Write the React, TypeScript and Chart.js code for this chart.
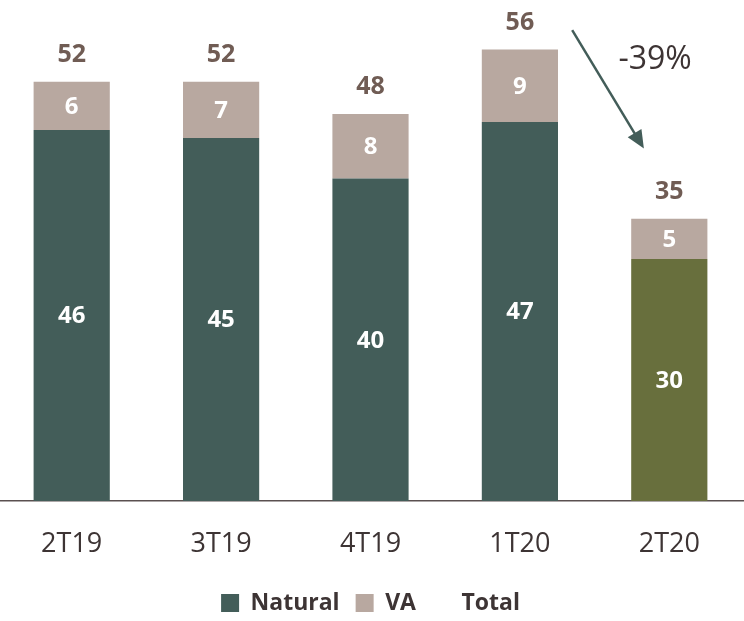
import React, { useEffect, useRef } from "react";
import { Chart, registerables } from "chart.js";

Chart.register(...registerables);

const categories = ["2T19", "3T19", "4T19", "1T20", "2T20"];
const naturalValues = [46, 45, 40, 47, 30];
const vaValues = [6, 7, 8, 9, 5];
const totalValues = [52, 52, 48, 56, 35];
const changeLabel = "-39%";
const yMax = 62;

const FONT = "'Open Sans', Lato, sans-serif";
const NATURAL = "#435d59";
const NATURAL_LAST = "#686f3d";
const VA = "#b8a8a0";
const TOTAL_TEXT = "#705c54";
const AXIS_TEXT = "#3d3434";

const labelsPlugin = {
  id: "labelsPlugin",
  afterDatasetsDraw(chart: any) {
    const ctx = chart.ctx;
    const xs = chart.scales.x;
    const ys = chart.scales.y;
    ctx.save();
    ctx.textAlign = "center";
    ctx.textBaseline = "middle";
    ctx.font = `bold 24px ${FONT}`;
    [0, 1].forEach((di) => {
      const meta = chart.getDatasetMeta(di);
      meta.data.forEach((bar: any, i: number) => {
        const p = bar.getProps(["x", "y", "base"], true);
        ctx.fillStyle = "#ffffff";
        ctx.fillText(String(chart.data.datasets[di].data[i]), p.x, (p.y + p.base) / 2 + 1);
      });
    });
    ctx.fillStyle = TOTAL_TEXT;
    ctx.font = `bold 25px ${FONT}`;
    totalValues.forEach((v, i) => {
      ctx.fillText(String(v), xs.getPixelForValue(i), ys.getPixelForValue(v) - 27);
    });

    // arrow between 1T20 and 2T20
    const step = xs.getPixelForValue(4) - xs.getPixelForValue(3);
    const x0 = xs.getPixelForValue(3) + 0.35 * step;
    const y0 = ys.getPixelForValue(58.4);
    const x1 = xs.getPixelForValue(3) + 0.83 * step;
    const y1 = ys.getPixelForValue(43.7);
    const ang = Math.atan2(y1 - y0, x1 - x0);
    const headLen = 18;
    const headW = 8;
    ctx.strokeStyle = NATURAL;
    ctx.fillStyle = NATURAL;
    ctx.lineWidth = 2.5;
    ctx.beginPath();
    ctx.moveTo(x0, y0);
    ctx.lineTo(x1 - Math.cos(ang) * headLen * 0.8, y1 - Math.sin(ang) * headLen * 0.8);
    ctx.stroke();
    ctx.beginPath();
    ctx.moveTo(x1, y1);
    const bx = x1 - Math.cos(ang) * headLen;
    const by = y1 - Math.sin(ang) * headLen;
    ctx.lineTo(bx + Math.sin(ang) * headW, by - Math.cos(ang) * headW);
    ctx.lineTo(bx - Math.sin(ang) * headW, by + Math.cos(ang) * headW);
    ctx.closePath();
    ctx.fill();

    ctx.font = `32px ${FONT}`;
    ctx.fillStyle = AXIS_TEXT;
    ctx.fillText(changeLabel, xs.getPixelForValue(3) + 0.905 * step, ys.getPixelForValue(54.7));
    ctx.restore();
  },
};

export default function App() {
  const ref = useRef<HTMLCanvasElement | null>(null);
  useEffect(() => {
    if (!ref.current) return;
    const chart = new Chart(ref.current, {
      type: "bar",
      data: {
        labels: categories,
        datasets: [
          {
            label: "Natural",
            data: naturalValues,
            backgroundColor: naturalValues.map((_, i) => (i === naturalValues.length - 1 ? NATURAL_LAST : NATURAL)),
            barPercentage: 0.51,
            categoryPercentage: 1,
            stack: "s",
          },
          {
            label: "VA",
            data: vaValues,
            backgroundColor: VA,
            barPercentage: 0.51,
            categoryPercentage: 1,
            stack: "s",
          },
          {
            type: "line",
            label: "Total",
            data: totalValues,
            showLine: false,
            pointRadius: 0,
            backgroundColor: "rgba(0,0,0,0)",
            borderColor: "rgba(0,0,0,0)",
            stack: "t",
          } as any,
        ],
      },
      options: {
        responsive: false,
        animation: false,
        events: [],
        layout: { padding: { top: 1, bottom: -3.5, left: 0, right: 0 } },
        plugins: {
          tooltip: { enabled: false },
          legend: {
            position: "bottom",
            labels: {
              font: { family: FONT, size: 23, weight: "bold" },
              color: AXIS_TEXT,
              boxWidth: 18,
              boxHeight: 18,
              padding: 16,
            },
          },
        },
        scales: {
          x: {
            stacked: true,
            grid: { display: false, drawTicks: false },
            border: { display: true, color: "#5a5050", width: 1.5 },
            ticks: { font: { family: FONT, size: 27 }, color: AXIS_TEXT, padding: 27 },
            afterFit: (scale: any) => {
              scale.height -= 12;
            },
          },
          y: {
            stacked: true,
            display: false,
            min: 0,
            max: yMax,
          },
        },
      },
      plugins: [labelsPlugin],
    });
    return () => chart.destroy();
  }, []);
  return (
    <canvas
      ref={ref}
      width={747}
      height={621}
      style={{ position: "absolute", left: -3, top: 0, width: 747, height: 621 }}
    />
  );
}
